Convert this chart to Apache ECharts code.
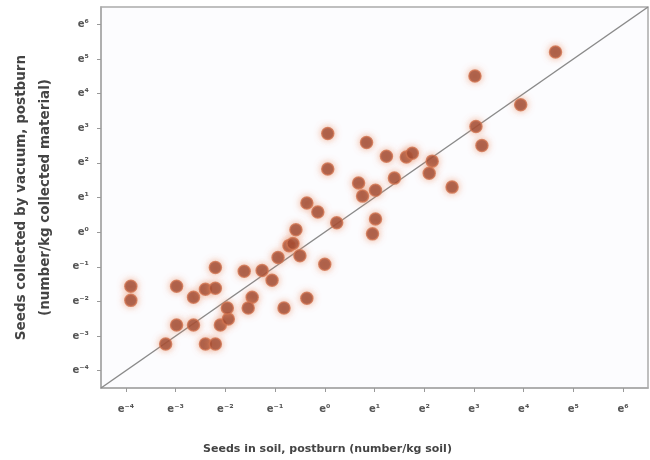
<!DOCTYPE html>
<html>
<head>
<meta charset="utf-8">
<script src="https://cdn.jsdelivr.net/npm/echarts@6/dist/echarts.min.js"></script>
<style>
  html, body { margin: 0; padding: 0; background: #fff; }
  #chart { width: 650px; height: 460px; }
</style>
</head>
<body>
<div id="chart"></div>
<script>
// values are natural-log exponents: a point at x = 1 means e^1 seeds/kg
const soilSeeds = [
  -3.90, -3.90, -3.20, -2.98, -2.98, -2.64, -2.64, -2.40, -2.20, -2.20,
  -2.40, -2.20, -2.10, -1.94, -1.96, -1.46, -1.54, -1.62, -1.26, -1.06,
  -0.82, -0.36, -0.94, -0.72, -0.64, -0.50, -0.58, 0.00, -0.36, -0.14,
  0.24, 0.06, 0.06, 0.68, 0.76, 1.02, 1.02, 0.96, 0.84, 1.40,
  1.24, 1.64, 1.76, 2.16, 2.10, 2.56, 3.02, 3.04, 3.16, 3.94, 4.64
]
const vacuumSeeds = [
  -1.56, -1.97, -3.23, -1.56, -2.68, -1.88, -2.68, -1.65, -1.62, -1.02,
  -3.23, -3.23, -2.68, -2.51, -2.19, -1.88, -2.19, -1.13, -1.11, -1.39,
  -2.19, -1.91, -0.73, -0.39, -0.33, -0.68, 0.07, -0.93, 0.84, 0.58,
  0.27, 2.85, 1.82, 1.42, 1.04, 1.21, 0.38, -0.05, 2.59, 1.56,
  2.19, 2.17, 2.28, 2.05, 1.70, 1.30, 4.51, 3.05, 2.50, 3.68, 5.20
]
const tickExponents = [-4, -3, -2, -1, 0, 1, 2, 3, 4, 5, 6]
const axisMin = -4.5
const axisMax = 6.5

const supDigits = { '-': '⁻', '0': '⁰', '1': '¹', '2': '²', '3': '³', '4': '⁴', '5': '⁵', '6': '⁶', '7': '⁷', '8': '⁸', '9': '⁹' }
function expLabel (v) {
  return 'e' + String(v).split('').map(c => supDigits[c]).join('')
}

let points = soilSeeds.map((x, i) => [x, vacuumSeeds[i]])

let axisCommon = {
  type: 'value',
  min: axisMin,
  max: axisMax,
  splitLine: { show: false },
  axisLine: { show: true, onZero: false, lineStyle: { color: '#aaa', width: 1.5 } },
  axisTick: { show: true, length: 4, customValues: tickExponents, lineStyle: { color: '#999' } },
  axisLabel: {
    customValues: tickExponents,
    formatter: expLabel,
    color: '#555',
    fontSize: 10,
    fontWeight: 'bold',
    fontFamily: 'DejaVu Sans'
  },
  nameTextStyle: {
    color: '#444',
    fontSize: 11,
    fontWeight: 'bold',
    fontFamily: 'DejaVu Sans'
  }
}

let myChart = echarts.init(document.getElementById('chart'))
myChart.setOption({
  backgroundColor: '#fff',
  animation: false,
  grid: {
    left: 101,
    right: 2,
    top: 7,
    bottom: 72,
    outerBoundsMode: 'none',
    containLabel: false,
    show: true,
    backgroundColor: '#fcfcfe',
    borderColor: '#aaa',
    borderWidth: 1.5
  },
  xAxis: Object.assign({}, axisCommon, {
    name: 'Seeds in soil, postburn (number/kg soil)',
    nameLocation: 'middle',
    nameGap: 56,
    axisLabel: Object.assign({}, axisCommon.axisLabel, { margin: 16 }),
    nameTextStyle: Object.assign({}, axisCommon.nameTextStyle, { padding: [0, 94, 0, 0] })
  }),
  yAxis: Object.assign({}, axisCommon, {
    name: 'Seeds collected by vacuum, postburn\n(number/kg collected material)',
    nameLocation: 'middle',
    nameGap: 44,
    axisLabel: Object.assign({}, axisCommon.axisLabel, { margin: 12 }),
    nameTextStyle: Object.assign({}, axisCommon.nameTextStyle, { fontSize: 13.5, lineHeight: 24 })
  }),
  series: [
    {
      name: '1:1',
      type: 'line',
      data: [[axisMin, axisMin], [axisMax, axisMax]],
      symbol: 'none',
      lineStyle: { color: '#8a8a8a', width: 1.5 },
      z: 1
    },
    {
      name: 'seeds',
      type: 'scatter',
      data: points,
      symbolSize: 12,
      itemStyle: {
        color: '#93402a',
        borderColor: '#cf7350',
        borderWidth: 1.5,
        shadowBlur: 7,
        shadowColor: 'rgba(236,140,95,0.75)'
      },
      z: 2
    }
  ]
})
</script>
</body>
</html>
